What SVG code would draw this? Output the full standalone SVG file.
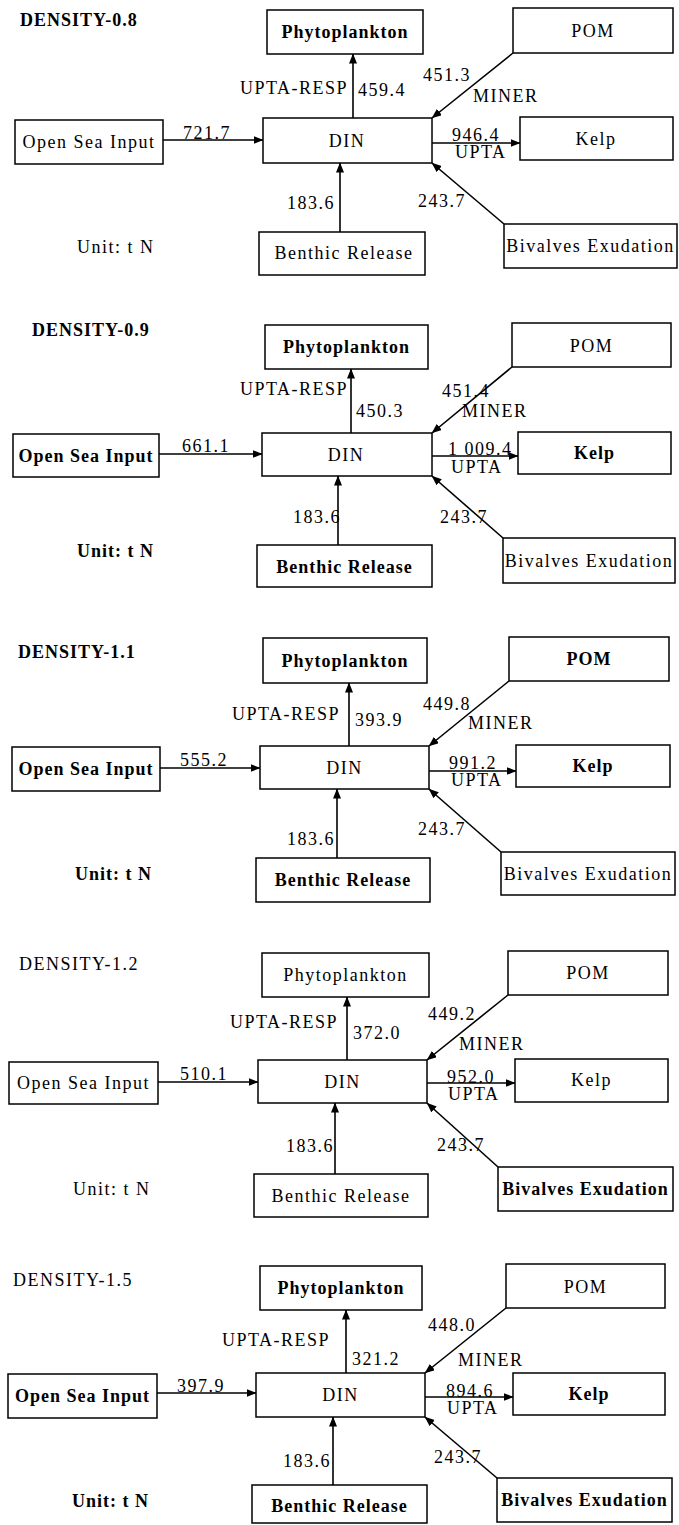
<svg xmlns="http://www.w3.org/2000/svg" width="679" height="1525" viewBox="0 0 679 1525">
<defs>
<marker id="ah" markerWidth="10" markerHeight="8" refX="9.5" refY="4" orient="auto" markerUnits="userSpaceOnUse"><path d="M0,0 L10,4 L0,8 z" fill="#000"/></marker>
<style>
.box{fill:#fff;stroke:#000;stroke-width:1.5}
text{font-family:"Liberation Serif","Times New Roman",serif;font-size:18px;letter-spacing:1.5px;fill:#000}
.b{font-weight:bold;letter-spacing:1px}
.m{text-anchor:middle}
.c{stroke:#000;stroke-width:1.6;fill:none;marker-end:url(#ah)}
</style>
</defs>
<rect width="679" height="1525" fill="#fff"/>

<!-- Panel 1 -->
<g id="panel1">
<text id="title1" class="b" x="20" y="26">DENSITY-0.8</text>
<text id="unit1" x="77" y="253">Unit: t N</text>
<g id="connectors1">
<line class="c" x1="163" y1="140" x2="263" y2="140"/>
<line class="c" x1="353" y1="118" x2="353" y2="54"/>
<line class="c" x1="513" y1="53" x2="432" y2="118"/>
<line class="c" x1="432" y1="143" x2="520" y2="143"/>
<line class="c" x1="504" y1="224" x2="432" y2="163"/>
<line class="c" x1="340" y1="232" x2="340" y2="163"/>
<text x="183" y="139">721.7</text>
<text x="240" y="94">UPTA-RESP</text>
<text x="358" y="96">459.4</text>
<text x="423" y="81">451.3</text>
<text x="473" y="102">MINER</text>
<text x="452" y="141">946.4</text>
<text x="455" y="158">UPTA</text>
<text x="287" y="209">183.6</text>
<text x="418" y="207">243.7</text>
</g>
<g id="p1-phyto"><rect class="box" x="267" y="10" width="156" height="44"/><text class="m b" x="345" y="38">Phytoplankton</text></g>
<g id="p1-pom"><rect class="box" x="513" y="8" width="160" height="45"/><text class="m" x="593" y="37">POM</text></g>
<g id="p1-open"><rect class="box" x="15" y="120" width="148" height="44"/><text class="m" x="89" y="148">Open Sea Input</text></g>
<g id="p1-din"><rect class="box" x="263" y="118" width="169" height="45"/><text class="m" x="347" y="147">DIN</text></g>
<g id="p1-kelp"><rect class="box" x="520" y="117" width="153" height="43"/><text class="m" x="596" y="145">Kelp</text></g>
<g id="p1-benthic"><rect class="box" x="259" y="232" width="166" height="43"/><text class="m" x="344" y="259">Benthic Release</text></g>
<g id="p1-bivalves"><rect class="box" x="504" y="224" width="173" height="44"/><text class="m" x="590.5" y="252">Bivalves Exudation</text></g>
</g>

<!-- Panel 2 -->
<g id="panel2">
<text id="title2" class="b" x="32" y="336">DENSITY-0.9</text>
<text id="unit2" class="b" x="77" y="557">Unit: t N</text>
<g id="connectors2">
<line class="c" x1="159" y1="454" x2="262" y2="454"/>
<line class="c" x1="351" y1="433" x2="351" y2="369"/>
<line class="c" x1="512" y1="367" x2="432" y2="433"/>
<line class="c" x1="432" y1="456" x2="518" y2="456"/>
<line class="c" x1="503" y1="538" x2="432" y2="476"/>
<line class="c" x1="338" y1="545" x2="338" y2="476"/>
<text x="182" y="452">661.1</text>
<text x="240" y="395">UPTA-RESP</text>
<text x="356" y="417">450.3</text>
<text x="442" y="397">451.4</text>
<text x="462" y="417">MINER</text>
<text x="448" y="455">1 009.4</text>
<text x="451" y="473">UPTA</text>
<text x="293" y="523">183.6</text>
<text x="440" y="523">243.7</text>
</g>
<g id="p2-phyto"><rect class="box" x="265" y="325" width="163" height="44"/><text class="m b" x="346.5" y="353">Phytoplankton</text></g>
<g id="p2-pom"><rect class="box" x="512" y="323" width="159" height="44"/><text class="m" x="591.5" y="352">POM</text></g>
<g id="p2-open"><rect class="box" x="13" y="434" width="146" height="43"/><text class="m b" x="86" y="462">Open Sea Input</text></g>
<g id="p2-din"><rect class="box" x="262" y="433" width="170" height="43"/><text class="m" x="346" y="461">DIN</text></g>
<g id="p2-kelp"><rect class="box" x="518" y="432" width="153" height="42"/><text class="m b" x="594.5" y="459">Kelp</text></g>
<g id="p2-benthic"><rect class="box" x="257" y="545" width="175" height="42"/><text class="m b" x="344.5" y="573">Benthic Release</text></g>
<g id="p2-bivalves"><rect class="box" x="503" y="538" width="172" height="45"/><text class="m" x="589" y="567">Bivalves Exudation</text></g>
</g>

<!-- Panel 3 -->
<g id="panel3">
<text id="title3" class="b" x="18" y="658">DENSITY-1.1</text>
<text id="unit3" class="b" x="75" y="880">Unit: t N</text>
<g id="connectors3">
<line class="c" x1="160" y1="768" x2="260" y2="768"/>
<line class="c" x1="349" y1="746" x2="349" y2="683"/>
<line class="c" x1="509" y1="681" x2="429" y2="746"/>
<line class="c" x1="429" y1="771" x2="516" y2="771"/>
<line class="c" x1="501" y1="852" x2="429" y2="789"/>
<line class="c" x1="337" y1="858" x2="337" y2="789"/>
<text x="180" y="766">555.2</text>
<text x="232" y="720">UPTA-RESP</text>
<text x="355" y="726">393.9</text>
<text x="423" y="710">449.8</text>
<text x="468" y="729">MINER</text>
<text x="449" y="769">991.2</text>
<text x="451" y="786">UPTA</text>
<text x="287" y="845">183.6</text>
<text x="418" y="835">243.7</text>
</g>
<g id="p3-phyto"><rect class="box" x="263" y="638" width="164" height="45"/><text class="m b" x="345" y="667">Phytoplankton</text></g>
<g id="p3-pom"><rect class="box" x="509" y="637" width="160" height="44"/><text class="m b" x="589" y="665">POM</text></g>
<g id="p3-open"><rect class="box" x="12" y="747" width="148" height="44"/><text class="m b" x="86" y="775">Open Sea Input</text></g>
<g id="p3-din"><rect class="box" x="260" y="746" width="169" height="43"/><text class="m" x="344.5" y="774">DIN</text></g>
<g id="p3-kelp"><rect class="box" x="516" y="745" width="154" height="42"/><text class="m b" x="593" y="772">Kelp</text></g>
<g id="p3-benthic"><rect class="box" x="256" y="858" width="174" height="44"/><text class="m b" x="343" y="886">Benthic Release</text></g>
<g id="p3-bivalves"><rect class="box" x="501" y="852" width="174" height="43"/><text class="m" x="588" y="880">Bivalves Exudation</text></g>
</g>

<!-- Panel 4 -->
<g id="panel4">
<text id="title4" x="19" y="970">DENSITY-1.2</text>
<text id="unit4" x="73" y="1195">Unit: t N</text>
<g id="connectors4">
<line class="c" x1="158" y1="1082" x2="258" y2="1082"/>
<line class="c" x1="347" y1="1060" x2="347" y2="997"/>
<line class="c" x1="508" y1="995" x2="427" y2="1060"/>
<line class="c" x1="427" y1="1083" x2="515" y2="1083"/>
<line class="c" x1="498" y1="1167" x2="427" y2="1103"/>
<line class="c" x1="335" y1="1174" x2="335" y2="1103"/>
<text x="180" y="1080">510.1</text>
<text x="230" y="1028">UPTA-RESP</text>
<text x="353" y="1039">372.0</text>
<text x="428" y="1020">449.2</text>
<text x="459" y="1050">MINER</text>
<text x="447" y="1083">952.0</text>
<text x="448" y="1100">UPTA</text>
<text x="286" y="1152">183.6</text>
<text x="437" y="1151">243.7</text>
</g>
<g id="p4-phyto"><rect class="box" x="262" y="953" width="167" height="44"/><text class="m" x="345.5" y="981">Phytoplankton</text></g>
<g id="p4-pom"><rect class="box" x="508" y="951" width="160" height="44"/><text class="m" x="588" y="979">POM</text></g>
<g id="p4-open"><rect class="box" x="9" y="1062" width="149" height="42"/><text class="m" x="83.5" y="1089">Open Sea Input</text></g>
<g id="p4-din"><rect class="box" x="258" y="1060" width="169" height="43"/><text class="m" x="342.5" y="1088">DIN</text></g>
<g id="p4-kelp"><rect class="box" x="515" y="1059" width="153" height="43"/><text class="m" x="591.5" y="1086">Kelp</text></g>
<g id="p4-benthic"><rect class="box" x="254" y="1174" width="174" height="43"/><text class="m" x="341" y="1202">Benthic Release</text></g>
<g id="p4-bivalves"><rect class="box" x="498" y="1167" width="175" height="44"/><text class="m b" x="585.5" y="1195">Bivalves Exudation</text></g>
</g>

<!-- Panel 5 -->
<g id="panel5">
<text id="title5" x="13" y="1286">DENSITY-1.5</text>
<text id="unit5" class="b" x="72" y="1507">Unit: t N</text>
<g id="connectors5">
<line class="c" x1="157" y1="1393" x2="256" y2="1393"/>
<line class="c" x1="346" y1="1373" x2="346" y2="1310"/>
<line class="c" x1="506" y1="1308" x2="425" y2="1373"/>
<line class="c" x1="425" y1="1397" x2="513" y2="1397"/>
<line class="c" x1="497" y1="1478" x2="425" y2="1417"/>
<line class="c" x1="333" y1="1485" x2="333" y2="1417"/>
<text x="177" y="1392">397.9</text>
<text x="222" y="1346">UPTA-RESP</text>
<text x="352" y="1365">321.2</text>
<text x="428" y="1331">448.0</text>
<text x="458" y="1366">MINER</text>
<text x="446" y="1397">894.6</text>
<text x="447" y="1414">UPTA</text>
<text x="283" y="1467">183.6</text>
<text x="434" y="1463">243.7</text>
</g>
<g id="p5-phyto"><rect class="box" x="260" y="1266" width="162" height="44"/><text class="m b" x="341" y="1294">Phytoplankton</text></g>
<g id="p5-pom"><rect class="box" x="506" y="1264" width="159" height="44"/><text class="m" x="585.5" y="1293">POM</text></g>
<g id="p5-open"><rect class="box" x="8" y="1374" width="149" height="44"/><text class="m b" x="82.5" y="1402">Open Sea Input</text></g>
<g id="p5-din"><rect class="box" x="256" y="1373" width="169" height="44"/><text class="m" x="340.5" y="1401">DIN</text></g>
<g id="p5-kelp"><rect class="box" x="513" y="1373" width="152" height="42"/><text class="m b" x="589" y="1400">Kelp</text></g>
<g id="p5-benthic"><rect class="box" x="252" y="1485" width="175" height="38"/><text class="m b" x="339.5" y="1512">Benthic Release</text></g>
<g id="p5-bivalves"><rect class="box" x="497" y="1478" width="175" height="44"/><text class="m b" x="584.5" y="1506">Bivalves Exudation</text></g>
</g>
</svg>
